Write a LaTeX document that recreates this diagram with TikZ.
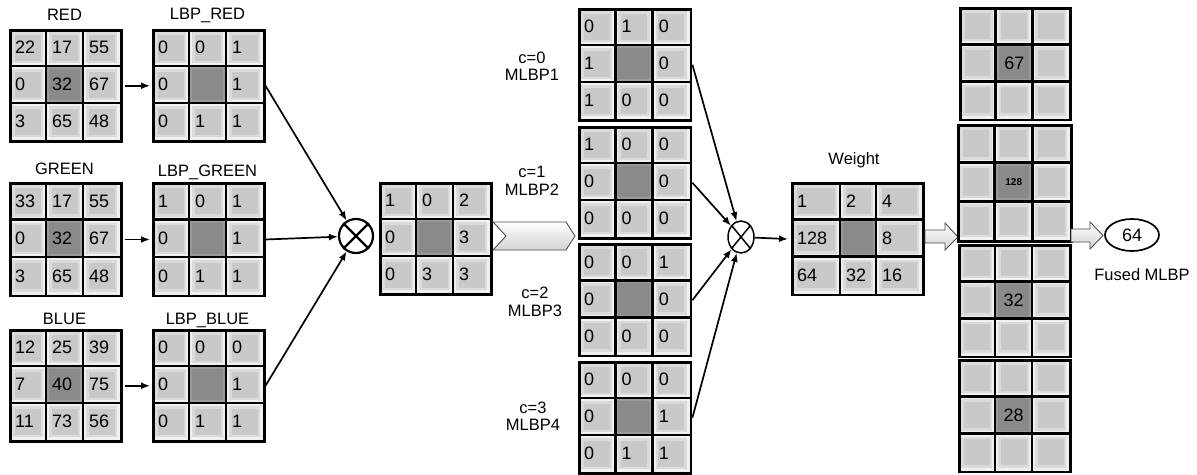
\documentclass[tikz,border=0pt]{standalone}
\usepackage{fontspec}
\setmainfont{Liberation Sans}
\usetikzlibrary{shapes.geometric,arrows.meta}

\definecolor{cellrim}{gray}{0.94}
\definecolor{cellmid}{gray}{0.86}
\definecolor{cellcore}{gray}{0.79}
\definecolor{hubrim}{gray}{0.60}
\definecolor{hubcore}{gray}{0.54}
\definecolor{arrowfill}{gray}{0.90}
\definecolor{arrowedge}{gray}{0.30}

\newcommand\numfont{\fontsize{18}{20}\selectfont}
\newcommand\labfont{\fontsize{16.5}{18}\selectfont}

\tikzset{
  gridline/.style={line width=2.5pt, black},
  numleft/.style={align=left},
  numcenter/.style={align=center},
  lab/.style={font=\labfont, inner sep=1pt, align=center},
  link/.style={line width=1.7pt, -{Latex[length=9pt,width=7pt]}},
  blockarrow/.style={line width=0.9pt, draw=arrowedge, top color=white, bottom color=gray!35},
}

% #1 name, #2 left, #3 top, #4-#6 column widths, #7 row height,
% #8 nine entries (row by row), #9 text alignment style
\newcommand\mkgrid[9]{%
  \pgfmathsetmacro\xa{#2}%
  \pgfmathsetmacro\xb{#2+#4}%
  \pgfmathsetmacro\xc{#2+#4+#5}%
  \pgfmathsetmacro\xd{#2+#4+#5+#6}%
  \pgfmathsetmacro\ye{#3+3*#7}%
  \foreach \e [count=\i from 0] in {#8} {
    \pgfmathtruncatemacro\rr{div(\i,3)}
    \pgfmathtruncatemacro\cc{mod(\i,3)}
    \ifcase\cc \let\xl\xa \pgfmathsetmacro\ww{#4}\or \let\xl\xb \pgfmathsetmacro\ww{#5}\or \let\xl\xc \pgfmathsetmacro\ww{#6}\fi
    \pgfmathsetmacro\yt{#3+\rr*#7}
    \ifnum\i=4
      \fill[hubrim] (\xl,\yt) rectangle ++(\ww,#7);
      \fill[hubcore] (\xl+3,\yt+3) rectangle ++(\ww-6,#7-6);
    \else
      \fill[cellrim] (\xl,\yt) rectangle ++(\ww,#7);
      \fill[cellmid] (\xl+3,\yt+3) rectangle ++(\ww-6,#7-6);
      \fill[cellcore] (\xl+5.5,\yt+5.5) rectangle ++(\ww-11,#7-11);
    \fi
    \pgfmathsetmacro\tw{\ww-12}
    \node[inner xsep=6pt, inner ysep=0pt, text width=\tw pt, minimum height=#7 pt,
          anchor=north west, font=\numfont, #9] at (\xl,\yt) {\e};
  }
  \pgfmathsetmacro\gw{#4+#5+#6}%
  \pgfmathsetmacro\gh{3*#7}%
  \node[draw, gridline, inner sep=0pt, minimum width=\gw pt, minimum height=\gh pt,
        anchor=north west] (#1) at (#2,#3) {};
  \draw[gridline] (\xb,#3) -- (\xb,\ye) (\xc,#3) -- (\xc,\ye)
                  (#2,#3+#7) -- (\xd,#3+#7) (#2,#3+2*#7) -- (\xd,#3+2*#7);
}

\begin{document}
\begin{tikzpicture}[x=1pt,y=-1pt]
\useasboundingbox (0,0) rectangle (1197,474);
\fill[white] (0,0) rectangle (1197,474);

% input channels and their LBP codes
\mkgrid{red}{9}{29}{37}{37}{37}{37}{22,17,55,0,32,67,3,65,48}{numleft}
\mkgrid{lbpred}{152}{29}{37}{37}{37}{37}{0,0,1,0,,1,0,1,1}{numleft}
\mkgrid{green}{9}{182}{37}{37}{37}{37.5}{33,17,55,0,32,67,3,65,48}{numleft}
\mkgrid{lbpgreen}{152}{182}{37}{37}{37}{37.5}{1,0,1,0,,1,0,1,1}{numleft}
\mkgrid{blue}{9}{329}{37}{37}{37}{37}{12,25,39,7,40,75,11,73,56}{numleft}
\mkgrid{lbpblue}{152}{329}{37}{37}{37}{37}{0,0,0,0,,1,0,1,1}{numleft}

\node[lab] (tred) at (64.5,15) {RED};
\node[lab] (tlbpred) at (207.5,15) {LBP\_RED};
\node[lab] (tgreen) at (64.5,169) {GREEN};
\node[lab] (tlbpgreen) at (207.5,172) {LBP\_GREEN};
\node[lab] (tblue) at (64.5,319) {BLUE};
\node[lab] (tlbpblue) at (207.5,320) {LBP\_BLUE};

% summed code
\node[circle, draw, line width=2.2pt, minimum size=34pt, inner sep=0pt] (ot1) at (356,236) {};
\draw[line width=2.2pt] (ot1.north west) -- (ot1.south east) (ot1.north east) -- (ot1.south west);
\mkgrid{merged}{379}{182}{37}{37}{37}{37}{1,0,2,0,,3,0,3,3}{numleft}

\draw[link, shorten <=2pt, shorten >=2pt] (red.east) -- (lbpred.west);
\draw[link, shorten <=2pt, shorten >=2pt] (green.east) -- (lbpgreen.west);
\draw[link, shorten <=2pt, shorten >=2pt] (blue.east) -- (lbpblue.west);
\draw[link] (lbpred.east) -- (ot1);
\draw[link] (lbpgreen.east) -- (ot1);
\draw[link] (lbpblue.east) -- (ot1);

% decomposition into binary planes
\draw[blockarrow] (493,222) -- (566,222) -- (575,236) -- (566,250) -- (493,250) -- (506,236) -- cycle;

\mkgrid{mlbpa}{578}{8}{37.3}{37.3}{37.3}{37}{0,1,0,1,,0,1,0,0}{numleft}
\mkgrid{mlbpb}{578}{126}{37.3}{37.3}{37.3}{37}{1,0,0,0,,0,0,0,0}{numleft}
\mkgrid{mlbpc}{578}{243}{37.3}{37.3}{37.3}{37.3}{0,0,1,0,,0,0,0,0}{numleft}
\mkgrid{mlbpd}{578}{361}{37.3}{37.3}{37.3}{37}{0,0,0,0,,1,0,1,1}{numleft}

\tikzset{twoline/.style={lab, font=\fontsize{16.5}{17.5}\selectfont}}
\node[twoline] (ca) at (532,66) {c=0\\MLBP1};
\node[twoline] (cb) at (532,181) {c=1\\MLBP2};
\node[twoline] (cc) at (535,302) {c=2\\MLBP3};
\node[twoline] (cd) at (533,416) {c=3\\MLBP4};

\node[ellipse, draw, line width=1.5pt, minimum width=26pt, minimum height=32pt, inner sep=0pt] (ot2) at (741,237) {};
\draw[line width=1.5pt] (ot2.north west) -- (ot2.south east) (ot2.north east) -- (ot2.south west);

\draw[link] (mlbpa.east) -- (ot2);
\draw[link] (mlbpb.east) -- (ot2);
\draw[link] (mlbpc.east) -- (ot2);
\draw[link] (mlbpd.east) -- (ot2);

% weighting
\mkgrid{weight}{791}{182}{49}{36}{46}{37.3}{1,2,4,128,,8,64,32,16}{numleft}
\node[lab] (tweight) at (854,160) {Weight};
\draw[link, shorten >=3pt] (ot2) -- (weight.west);

\draw[blockarrow] (925,230) -- (945,230) -- (945,223) -- (958,237) -- (945,250) -- (945,243) -- (925,243) -- cycle;

% weighted planes
\mkgrid{fa}{959}{7}{36.7}{36.7}{36.7}{37.3}{,,,,67,,,,}{numcenter}
\mkgrid{fb}{957}{124}{37.7}{37.7}{37.7}{38.7}{,,,,{\fontsize{10}{11}\selectfont\bfseries 128},,,,}{numcenter}
\mkgrid{fc}{958}{244}{37}{37}{37}{37.3}{,,,,32,,,,}{numcenter}
\mkgrid{fd}{958}{359}{37}{37}{37}{37.3}{,,,,28,,,,}{numcenter}

\draw[blockarrow] (1071,229) -- (1090,229) -- (1090,222) -- (1103,235.5) -- (1090,249) -- (1090,242) -- (1071,242) -- cycle;

\node[ellipse, draw, line width=1.7pt, minimum width=54pt, minimum height=32pt, inner sep=0pt,
      font=\numfont] (fused) at (1132,235) {64};
\node[lab] (tfused) at (1142,275) {Fused MLBP};
\end{tikzpicture}
\end{document}
